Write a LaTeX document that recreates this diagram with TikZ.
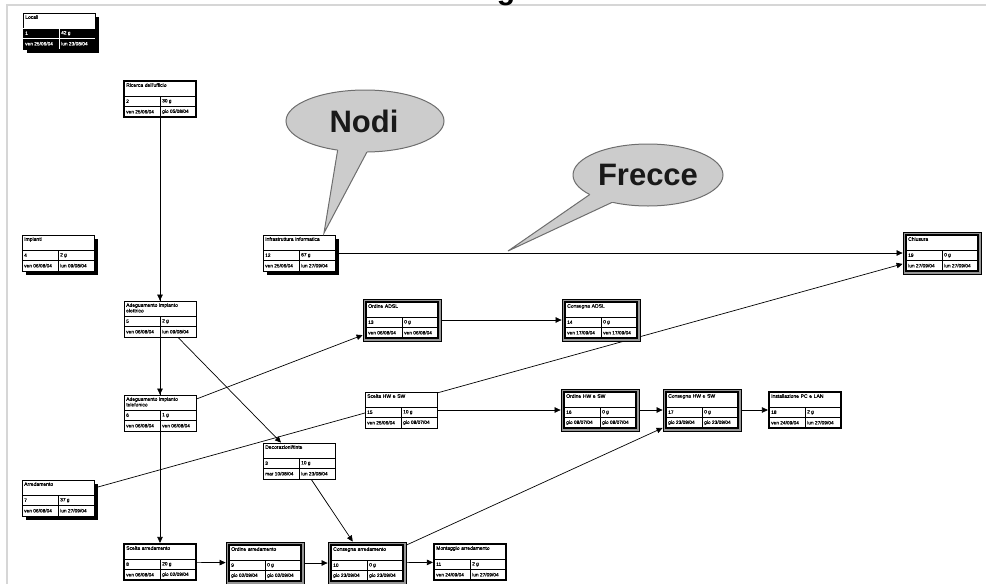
\documentclass[tikz,border=0pt]{standalone}
\usepackage{fontspec}
\setmainfont{Liberation Sans}
\newfontface\boxfont{Liberation Sans}[FakeBold=0.8]
\usetikzlibrary{arrows.meta,backgrounds}

\definecolor{framegray}{RGB}{214,214,214}
\definecolor{bubblefill}{RGB}{204,204,204}
\definecolor{bubbleline}{RGB}{110,110,110}
\definecolor{bandgray}{RGB}{150,150,150}

\tikzset{
  link/.style={line width=0.7pt,-{Triangle[length=6pt,width=5.5pt]}},
  boxbase/.style={draw,fill=white,inner sep=0pt,minimum width=72pt,minimum height=36pt,line width=0.8pt},
  boxplain/.style={boxbase},
  boxshadow/.style={boxbase},
  boxsummary/.style={boxbase},
  boxthick/.style={boxbase,line width=2.2pt},
  boxdouble/.style={boxbase,fill=bandgray,minimum width=78pt,minimum height=42pt,line width=0.8pt},
  cellrule/.style={line width=0.5pt},
  ttl/.style={anchor=north west,inner sep=0pt,text width=68pt,align=left,
    font=\boxfont\fontsize{5}{5.6}\selectfont},
  cell/.style={anchor=west,inner sep=0pt,font=\boxfont\fontsize{4.8}{5}\selectfont},
  bubble/.style={fill=bubblefill},
  bubbleedge/.style={draw=bubbleline,line width=1pt},
  bubbletext/.style={font=\bfseries\fontsize{31}{31}\selectfont,text=black!90},
}

% extras drawn before / after the frame of each kind of task box
\newcommand{\preshadow}{\fill (4,4) rectangle (76,40);}
\newcommand{\presummary}{\fill (4,4) rectangle (76,40);}
\newcommand{\postdouble}{\draw[line width=1.6pt,fill=white] (0,0) rectangle (72,36);}
\newcommand{\postsummary}{\fill (0,15) rectangle (72,36);%
  \tikzset{cell/.append style={text=white},cellrule/.append style={draw=white}}}

% #1 name, #2 kind, #3 x, #4 y, #5 title, #6 id, #7 duration, #8 start, #9 finish
\newcommand{\taskbox}[9]{%
  \begin{scope}[shift={(#3,#4)}]
    \csname pre#2\endcsname
    \node[box#2] (#1) at (36,18) {};
    \csname post#2\endcsname
    \draw[cellrule] (0,15) -- (72,15) (0,25) -- (72,25) (36,15) -- (36,36);
    \node[ttl] at (2,2) {#5};
    \node[cell] at (2,20.2) {#6};
    \node[cell] at (38,20.2) {#7};
    \node[cell] at (2,30.7) {#8};
    \node[cell] at (38,30.7) {#9};
  \end{scope}}

\begin{document}
\begin{tikzpicture}[x=1pt,y=-1pt]
  \useasboundingbox (0,0) rectangle (986,584);

  % page frame and heading
  \draw[framegray,line width=2pt] (7,584) -- (7,5) -- (986,5);
  \node[font=\bfseries\fontsize{30}{30}\selectfont,anchor=base west,inner sep=0pt] (heading) at (450,-1) {Diagramma reticolare};

  % tasks
  \taskbox{loc}{summary}{23}{13}{Locali}{1}{42 g}{ven 25/06/04}{lun 23/08/04}
  \taskbox{ric}{thick}{124}{81}{Ricerca dell'ufficio}{2}{30 g}{ven 25/06/04}{gio 05/08/04}
  \taskbox{imp}{shadow}{22}{235}{Impianti}{4}{2 g}{ven 06/08/04}{lun 09/08/04}
  \taskbox{infr}{shadow}{263}{235}{Infrastruttura informatica}{12}{67 g}{ven 25/06/04}{lun 27/09/04}
  \taskbox{chi}{double}{906}{235}{Chiusura}{19}{0 g}{lun 27/09/04}{lun 27/09/04}
  \taskbox{ele}{plain}{124}{301}{Adeguamento impianto\\elettrico}{5}{2 g}{ven 06/08/04}{lun 09/08/04}
  \taskbox{oadsl}{double}{366}{302}{Ordine ADSL}{13}{0 g}{ven 06/08/04}{ven 06/08/04}
  \taskbox{cadsl}{double}{565}{302}{Consegna ADSL}{14}{0 g}{ven 17/09/04}{ven 17/09/04}
  \taskbox{tel}{plain}{124}{395}{Adeguamento impianto\\telefonico}{6}{1 g}{ven 06/08/04}{ven 06/08/04}
  \taskbox{shw}{plain}{365}{392}{Scelta HW e SW}{15}{10 g}{ven 25/06/04}{gio 08/07/04}
  \taskbox{ohw}{double}{564}{392}{Ordine HW e SW}{16}{0 g}{gio 08/07/04}{gio 08/07/04}
  \taskbox{chw}{double}{666}{392}{Consegna HW e SW}{17}{0 g}{gio 23/09/04}{gio 23/09/04}
  \taskbox{ipc}{thick}{769}{392}{Installazione PC e LAN}{18}{2 g}{ven 24/09/04}{lun 27/09/04}
  \taskbox{dec}{plain}{263}{443}{Decorazioni/tinte}{3}{10 g}{mar 10/08/04}{lun 23/08/04}
  \taskbox{arr}{shadow}{22}{480}{Arredamento}{7}{37 g}{ven 06/08/04}{lun 27/09/04}
  \taskbox{sca}{thick}{124}{544}{Scelta arredamento}{8}{20 g}{ven 06/08/04}{gio 02/09/04}
  \taskbox{oarr}{double}{229}{545}{Ordine arredamento}{9}{0 g}{gio 02/09/04}{gio 02/09/04}
  \taskbox{carr}{double}{331}{545}{Consegna arredamento}{10}{0 g}{gio 23/09/04}{gio 23/09/04}
  \taskbox{mon}{thick}{434}{544}{Montaggio arredamento}{11}{2 g}{ven 24/09/04}{lun 27/09/04}

  % dependencies, behind the boxes
  \begin{scope}[on background layer]
    \draw[link] (ric) -- (ele);
    \draw[link] (ric) -- (tel);
    \draw[link] (ric) -- (sca);
    \draw[link] (ele) -- (dec);
    \draw[link] (tel) -- (oadsl);
    \draw[link] (oadsl) -- (cadsl);
    \draw[link] (shw) -- (ohw);
    \draw[link] (ohw) -- (chw);
    \draw[link] (chw) -- (ipc);
    \draw[link] (infr) -- (chi);
    \draw[link] (arr) -- (chi);
    \draw[link] (dec) -- (carr);
    \draw[link] (carr) -- (chw);
    \draw[link] (sca) -- (oarr);
    \draw[link] (oarr) -- (carr);
    \draw[link] (carr) -- (mon);
  \end{scope}

  % callout "Nodi"
  \coordinate (nodiTip) at (324,233);
  \fill[bubble] (338,148) -- (nodiTip) -- (368,150) -- cycle;
  \fill[bubble] (365,121) ellipse [x radius=79, y radius=31];
  \draw[bubbleedge] (365,121) ellipse [x radius=79, y radius=31];
  \fill[bubble] (338,148) -- (nodiTip) -- (368,150) -- cycle;
  \begin{scope}[even odd rule]
    \clip (0,0) rectangle (986,584) (365,121) ellipse [x radius=79, y radius=31];
    \draw[bubbleedge] (338,148) -- (nodiTip) -- (368,150);
  \end{scope}
  \node[bubbletext] (nodi) at (364,121) {Nodi};

  % callout "Frecce"
  \coordinate (frecceTip) at (508,251);
  \fill[bubble] (592,193) -- (frecceTip) -- (615,201) -- cycle;
  \fill[bubble] (648,175) ellipse [x radius=75, y radius=31];
  \draw[bubbleedge] (648,175) ellipse [x radius=75, y radius=31];
  \fill[bubble] (592,193) -- (frecceTip) -- (615,201) -- cycle;
  \begin{scope}[even odd rule]
    \clip (0,0) rectangle (986,584) (648,175) ellipse [x radius=75, y radius=31];
    \draw[bubbleedge] (592,193) -- (frecceTip) -- (615,201);
  \end{scope}
  \node[bubbletext] (frecce) at (648,175) {Frecce};
\end{tikzpicture}
\end{document}
